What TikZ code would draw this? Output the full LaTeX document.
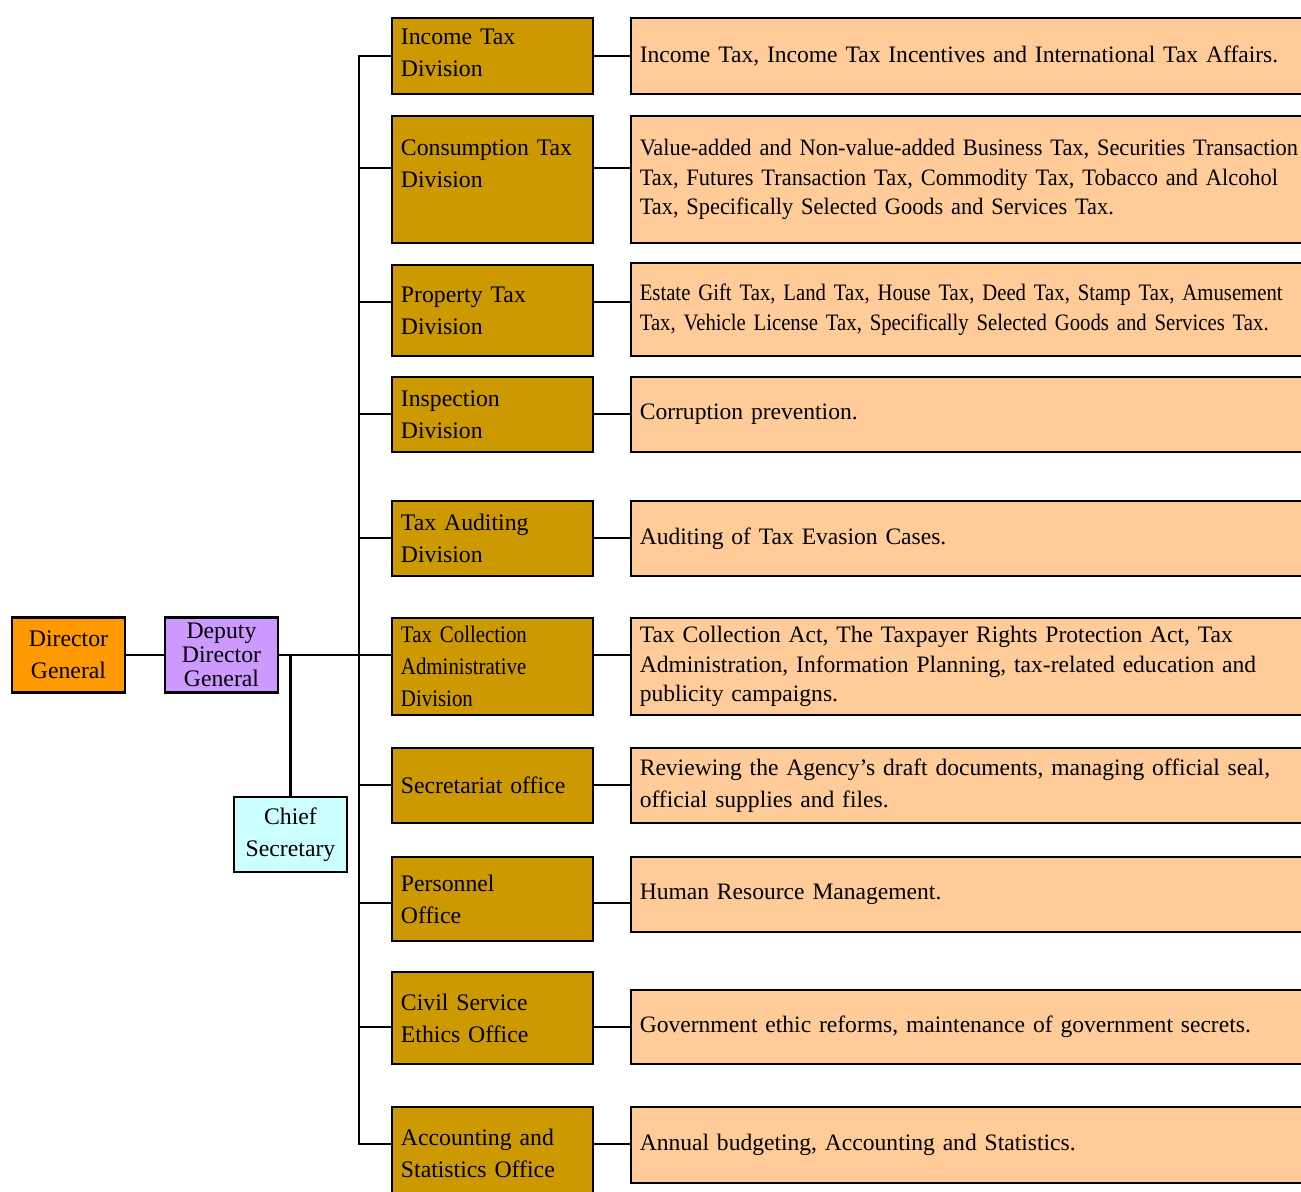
\documentclass[tikz,border=0pt]{standalone}
\usepackage{fontspec}
\setmainfont{Liberation Serif}
\newfontfamily\tightserif[FakeStretch=0.95]{Liberation Serif}
\newfontfamily\narrowserif[FakeStretch=0.88]{Liberation Serif}
\usepackage{xcolor}

\definecolor{dgorange}{HTML}{FF9900}
\definecolor{ddgpurple}{HTML}{CC99FF}
\definecolor{secblue}{HTML}{CCFFFF}
\definecolor{divgold}{HTML}{CC9900}
\definecolor{dutypeach}{HTML}{FFCC99}

\begin{document}
\begin{tikzpicture}[x=0.01cm,y=-0.01cm,
	every node/.style={font=\fontsize{6.75pt}{9.1pt}\selectfont},
	box/.style={draw,line width=0.6pt,inner sep=0pt},
	headbox/.style={box,minimum width=1.13cm,minimum height=0.75cm,align=center},
	divbox/.style={box,fill=divgold,minimum width=2.01cm,text width=1.83cm,align=left},
	dutybox/.style={box,fill=dutypeach,minimum width=8cm,text width=7.82cm,align=left,
		font=\fontsize{6.7pt}{8.4pt}\selectfont},
	link/.style={line width=0.6pt}]
	\useasboundingbox (0,0) rectangle (1301,1192);

	% top of the agency
	\node[headbox,fill=dgorange] (dg) at (68.5,655) {Director\\General};
	\node[headbox,fill=ddgpurple,font=\fontsize{6.75pt}{6.9pt}\selectfont] (ddg) at (221.5,655) {Deputy\\Director\\General};
	\node[headbox,fill=secblue] (chief) at (290.5,834.5) {Chief\\Secretary};

	% divisions and offices
	\node[divbox,minimum height=0.76cm] (inc) at (492.5,56) {Income Tax\\Division\\[-7.4pt]\mbox{}};
	\node[divbox,minimum height=1.27cm] (con) at (492.5,179.5) {Consumption Tax\\Division\\\mbox{}};
	\node[divbox,minimum height=0.91cm] (pro) at (492.5,310.5) {Property Tax\\Division};
	\node[divbox,minimum height=0.75cm] (ins) at (492.5,414.5) {Inspection\\Division};
	\node[divbox,minimum height=0.75cm] (aud) at (492.5,538.5) {Tax Auditing\\Division};
	\node[divbox,minimum height=0.97cm,font=\narrowserif\fontsize{6.75pt}{9.1pt}\selectfont] (col) at (492.5,666.5) {Tax Collection\\Administrative\\Division};
	\node[divbox,minimum height=0.75cm] (sec) at (492.5,785.5) {Secretariat office};
	\node[divbox,minimum height=0.84cm] (per) at (492.5,899) {Personnel\\Office};
	\node[divbox,minimum height=0.92cm] (civ) at (492.5,1018) {Civil Service\\Ethics Office};
	\node[divbox,minimum height=0.93cm] (acc) at (492.5,1153.5) {Accounting and\\Statistics Office};

	% their duties
	\node[dutybox,minimum height=0.76cm] (inc-duty) at (1031,56) {Income Tax, Income Tax Incentives and International Tax Affairs.};
	\node[dutybox,minimum height=1.27cm,font=\tightserif\fontsize{6.7pt}{8.4pt}\selectfont] (con-duty) at (1031,179.5) {Value-added and Non-value-added Business Tax, Securities Transaction\\Tax, Futures Transaction Tax, Commodity Tax, Tobacco and Alcohol\\Tax, Specifically Selected Goods and Services Tax.};
	\node[dutybox,minimum height=0.93cm,font=\narrowserif\fontsize{6.7pt}{8.4pt}\selectfont] (pro-duty) at (1031,309.5) {Estate Gift Tax, Land Tax, House Tax, Deed Tax, Stamp Tax, Amusement\\Tax, Vehicle License Tax, Specifically Selected Goods and Services Tax.};
	\node[dutybox,minimum height=0.75cm] (ins-duty) at (1031,414.5) {Corruption prevention.};
	\node[dutybox,minimum height=0.75cm] (aud-duty) at (1031,538.5) {Auditing of Tax Evasion Cases.};
	\node[dutybox,minimum height=0.97cm] (col-duty) at (1031,666.5) {Tax Collection Act, The Taxpayer Rights Protection Act, Tax\\Administration, Information Planning, tax-related education and\\publicity campaigns.};
	\node[dutybox,minimum height=0.75cm,font=\fontsize{6.7pt}{9.1pt}\selectfont] (sec-duty) at (1031,785.5) {Reviewing the Agency’s draft documents, managing official seal,\\official supplies and files.};
	\node[dutybox,minimum height=0.75cm] (per-duty) at (1031,894.5) {Human Resource Management.};
	\node[dutybox,minimum height=0.74cm] (civ-duty) at (1031,1027) {Government ethic reforms, maintenance of government secrets.};
	\node[dutybox,minimum height=0.76cm] (acc-duty) at (1031,1145) {Annual budgeting, Accounting and Statistics.};

	% connectors
	\draw[link] (dg.east) -- (ddg.west);
	\draw[link] (chief.north) -- (chief.north |- ddg.east);

	\coordinate (jinc) at (359,56);
	\coordinate (jacc) at (359,1144);
	\draw[link] (jinc -| inc.west) -- (jinc) -- (jacc) -- (jacc -| acc.west);

	\foreach \d/\y in {inc/56,con/168,pro/302,ins/414,aud/538,col/655,sec/785,per/903,civ/1027,acc/1144}{
		\coordinate (j\d) at (359,\y);
		\draw[link] (j\d) -- (j\d -| \d.west);
		\draw[link] (j\d -| \d.east) -- (j\d -| \d-duty.west);
	}
	\draw[link] (ddg.east) -- (jcol);
\end{tikzpicture}
\end{document}
